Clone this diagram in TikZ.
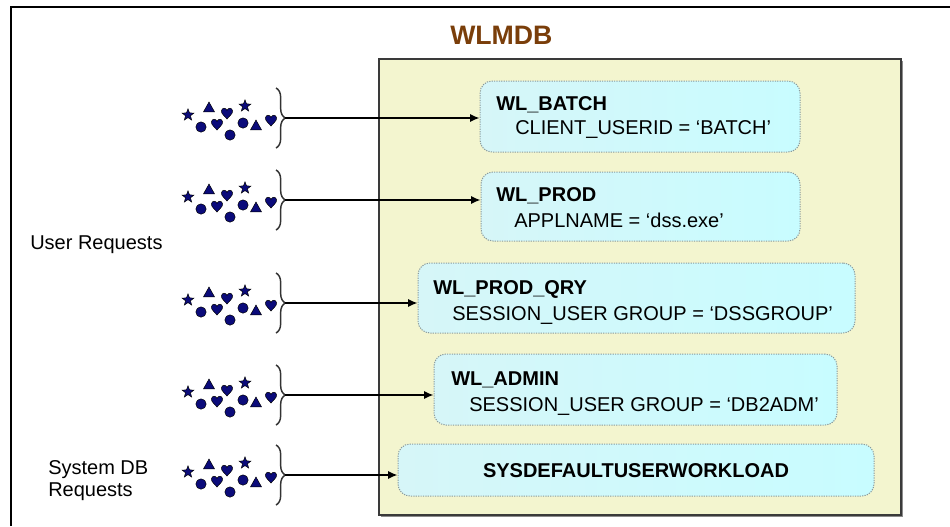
\documentclass[tikz,border=0pt]{standalone}
\usepackage{fontspec}
\setmainfont{Liberation Sans}
\usetikzlibrary{arrows.meta,decorations.pathreplacing,fit}
\definecolor{symblue}{HTML}{0B0B7A}
\definecolor{dbfill}{HTML}{F3F5CF}
\definecolor{dbedge}{HTML}{3A3A3A}
\definecolor{titlebrown}{HTML}{7A3E0A}
\definecolor{wlleft}{HTML}{D6F6F8}
\definecolor{wlright}{HTML}{C8FCFF}
\definecolor{wledge}{HTML}{8A9A9C}

\tikzset{
  sym/.style={fill=symblue, draw=black, line width=0.35pt},
  pics/sstar/.style={code={
    \path[sym] (270:6.2) \foreach \k in {1,...,4}{ -- (270+72*\k-36:2.6) -- (270+72*\k:6.2)} -- (234:2.6) -- cycle;}},
  pics/stri/.style={code={
    \path[sym] (0,-6) -- (5.5,3.8) -- (-5.5,3.8) -- cycle;}},
  pics/sdot/.style={code={
    \path[sym] (0,0) circle (5.2);}},
  pics/sheart/.style={code={
    \path[sym] (0,6) .. controls (-2,3.5) and (-6,0.5) .. (-5.6,-2)
      .. controls (-5.2,-5.6) and (-1,-5.6) .. (0,-2.6)
      .. controls (1,-5.6) and (5.2,-5.6) .. (5.6,-2)
      .. controls (6,0.5) and (2,3.5) .. (0,6) -- cycle;}},
  pics/crowd/.style={code={
    \pic at (-97,-3) {sstar};
    \pic at (-76,-10) {stri};
    \pic at (-58,-5) {sheart};
    \pic at (-40,-12) {sstar};
    \pic at (-84,9) {sdot};
    \pic at (-68,6) {sheart};
    \pic at (-55,17) {sdot};
    \pic at (-42,5) {sdot};
    \pic at (-29,8) {stri};
    \pic at (-14,2) {sheart};
  }},
  bracepen/.style={draw=black!80, line width=1.1pt, decorate,
    decoration={brace, amplitude=7pt}},
  feed/.style={draw=black, line width=1.1pt, -{Latex[length=7pt,width=6pt]}},
  wlbox/.style={rounded corners=9pt, draw=wledge, line width=0.75pt,
    dash pattern=on 0.9pt off 0.9pt, left color=wlleft, middle color=white,
    right color=wlright, inner sep=0pt},
  dbbox/.style={fill=dbfill, draw=dbedge, line width=1.5pt, inner sep=0pt},
  txt/.style={font=\fontsize{15pt}{18pt}\selectfont, inner sep=0pt, anchor=base west},
  head/.style={txt, font=\fontsize{15pt}{18pt}\selectfont\bfseries},
  ttl/.style={inner sep=0pt, anchor=base west, text=titlebrown,
    font=\fontsize{20pt}{24pt}\selectfont\bfseries},
}

\begin{document}
\begin{tikzpicture}[x=0.75pt, y=-0.75pt]
\useasboundingbox (0,0) rectangle (950,526);

% outer frame: only its left and top sides fall inside the page
\draw[black, line width=1.9pt] (11,526) -- (11,7) -- (950,7);

% database container
\fill[black!45] (381,61) rectangle (903,517);
\node[dbbox, fit={(379,59) (901,515)}] (db) {};
\node[ttl] (title) at (450,44) {WLMDB};

% workloads
\node[wlbox, fit={(480,81) (800,152)}] (b1) {};
\node[wlbox, fit={(481,172) (800,241)}] (b2) {};
\node[wlbox, fit={(418,263) (855,333)}] (b3) {};
\node[wlbox, fit={(434,354) (837,425)}] (b4) {};
\node[wlbox, fit={(398,444) (874,496)}] (b5) {};

\node[head] (h1) at (496,110) {WL\_BATCH};
\node[txt]  (c1) at (515,134) {CLIENT\_USERID = ‘BATCH’};
\node[head] (h2) at (496,201) {WL\_PROD};
\node[txt]  (c2) at (514,227) {APPLNAME = ‘dss.exe’};
\node[head] (h3) at (433,294) {WL\_PROD\_QRY};
\node[txt]  (c3) at (452,320) {SESSION\_USER GROUP = ‘DSSGROUP’};
\node[head] (h4) at (451,385) {WL\_ADMIN};
\node[txt]  (c4) at (469,411) {SESSION\_USER GROUP = ‘DB2ADM’};
\node[head, anchor=base] (h5) at (636,477) {SYSDEFAULTUSERWORKLOAD};

% request labels
\node[txt] (ur) at (30,249) {User Requests};
\node[txt] (sys1) at (48,474) {System DB};
\node[txt] (sys2) at (48,496) {Requests};

% incoming request groups
\foreach \r/\ty in {1/118, 2/200, 3/303, 4/395, 5/475}{
  \draw[bracepen] (276,\ty-30) -- (276,\ty+30);
  \coordinate (t\r) at (285,\ty);
  \pic at (t\r) {crowd};
}

% connectors
\foreach \r in {1,...,5}{
  \draw[feed] (t\r) -- (t\r -| b\r.west);
}
\end{tikzpicture}
\end{document}
